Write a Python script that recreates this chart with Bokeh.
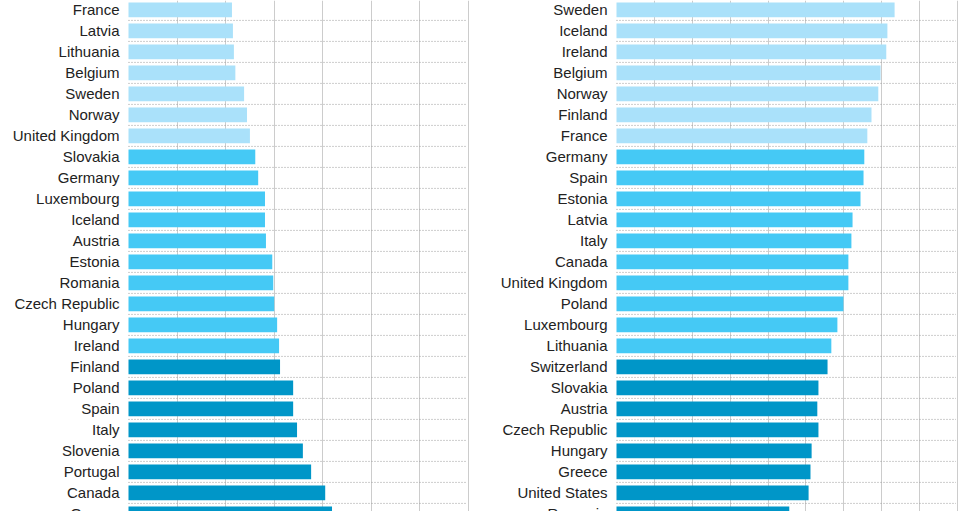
from bokeh.plotting import figure
from bokeh.layouts import row
from bokeh.models import Range1d, FixedTicker, ColumnDataSource
from bokeh.core.properties import value
from bokeh.embed import file_html
from bokeh.resources import INLINE

# ---------------- data ----------------
left_countries = ["France", "Latvia", "Lithuania", "Belgium", "Sweden", "Norway",
                  "United Kingdom", "Slovakia", "Germany", "Luxembourg", "Iceland",
                  "Austria", "Estonia", "Romania", "Czech Republic", "Hungary",
                  "Ireland", "Finland", "Poland", "Spain", "Italy", "Slovenia",
                  "Portugal", "Canada", "Greece"]
left_values = [21.3, 21.5, 21.7, 22.0, 23.8, 24.4, 25.0, 26.1, 26.7, 28.1, 28.1,
               28.3, 29.6, 29.8, 30.0, 30.6, 31.0, 31.2, 33.9, 33.9, 34.7, 35.9,
               37.6, 40.5, 41.9]
left_tiers = [1] * 7 + [2] * 10 + [3] * 8

right_countries = ["Sweden", "Iceland", "Ireland", "Belgium", "Norway", "Finland",
                   "France", "Germany", "Spain", "Estonia", "Latvia", "Italy",
                   "Canada", "United Kingdom", "Poland", "Luxembourg", "Lithuania",
                   "Switzerland", "Slovakia", "Austria", "Czech Republic", "Hungary",
                   "Greece", "United States", "Romania"]
right_values = [73.4, 71.5, 71.2, 69.7, 69.1, 67.3, 66.2, 65.4, 65.2, 64.4, 62.3,
                62.0, 61.2, 61.2, 59.9, 58.3, 56.7, 55.7, 53.3, 53.0, 53.3, 51.5,
                51.2, 50.7, 45.6]
right_tiers = [1] * 7 + [2] * 10 + [3] * 8

left_gridlines = [10, 20, 30, 40, 50, 60, 70]
right_gridlines = [10, 20, 30, 40, 50, 60, 70, 80, 90]

TIER_COLORS = {1: "#aae1fa", 2: "#45c9f5", 3: "#0096c8"}

# ---------------- layout ----------------
ROW_PX = 21.0
FRAME_H = 511
TOP_OFFSET_PX = 9.4   # centre of first row below frame top


def make_panel(countries, values, tiers, gridlines, x_max, label_px, plot_px, mb_right):
    n = len(countries)
    ys = [-i for i in range(n)]
    px_per_unit = (plot_px - 2) / x_max
    x_start = -label_px / px_per_unit
    x_end = (plot_px) / px_per_unit
    src = ColumnDataSource(dict(
        y=ys, v=values, color=[TIER_COLORS[t] for t in tiers], name=countries))
    y_top = TOP_OFFSET_PX / ROW_PX
    y_bottom = y_top - FRAME_H / ROW_PX
    p = figure(frame_width=label_px + plot_px, frame_height=FRAME_H,
               x_range=Range1d(x_start, x_end), y_range=Range1d(y_bottom, y_top),
               output_backend="svg", toolbar_location=None,
               min_border_left=0, min_border_right=mb_right,
               min_border_top=0, min_border_bottom=0)
    p.outline_line_color = None
    p.background_fill_color = "white"
    p.border_fill_color = "white"
    p.xaxis.visible = False
    p.yaxis.visible = False
    p.ygrid.visible = False

    p.xgrid.ticker = FixedTicker(ticks=gridlines)
    p.xgrid.grid_line_color = "#cccccc"
    p.xgrid.grid_line_width = 1

    # dotted row separators
    bounds = [-i - 0.5 for i in range(n)]
    p.segment(x0=0, x1=x_max - 0.4, y0=bounds, y1=bounds,
              line_color="#9a9a9a", line_dash="1 2", line_width=1)

    p.hbar(y="y", left=0, right="v", height=0.7, fill_color="color",
           line_color=None, source=src)

    p.text(x=0, y="y", text="name", source=src, x_offset=-9,
           text_align="right", text_baseline="middle",
           text_font=value("Liberation Sans"), text_font_size=value("15px"),
           text_color="#222222")
    return p


left = make_panel(left_countries, left_values, left_tiers, left_gridlines,
                  70, 128, 342, 20)
right = make_panel(right_countries, right_values, right_tiers, right_gridlines,
                   90, 126, 343, 8)

layout = row(left, right)
open("out.html", "w").write(file_html(layout, INLINE))
